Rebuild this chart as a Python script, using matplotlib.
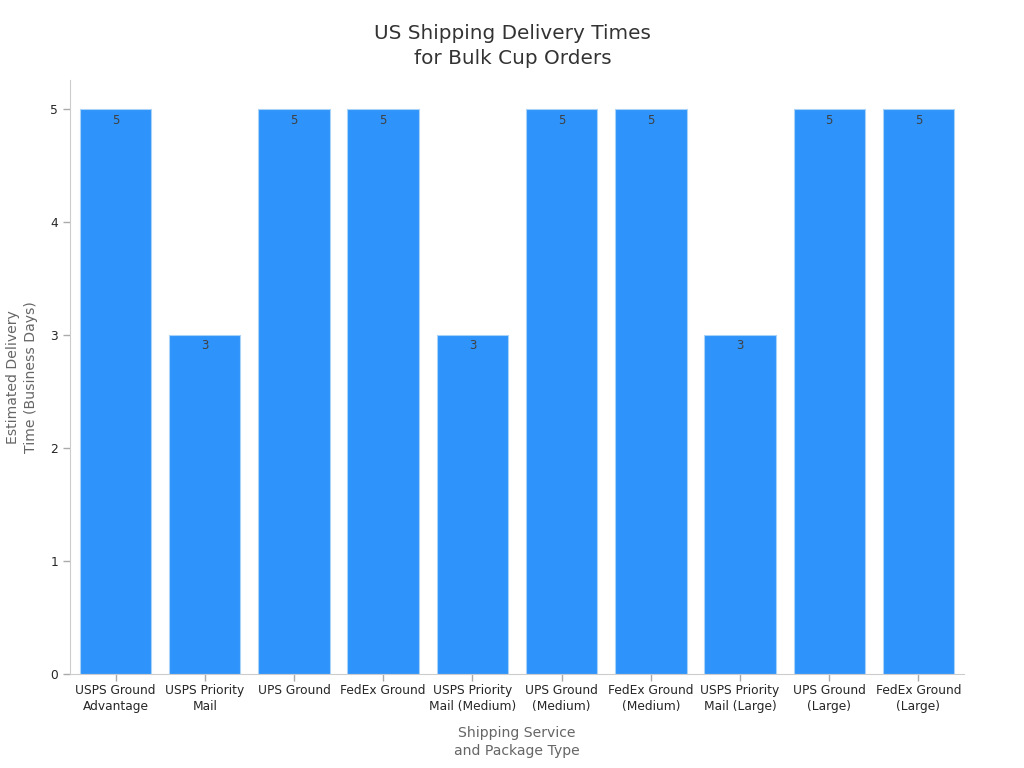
import matplotlib
matplotlib.use('Agg')
import matplotlib.pyplot as plt

services = ['USPS Ground\nAdvantage', 'USPS Priority\nMail', 'UPS Ground', 'FedEx Ground',
            'USPS Priority\nMail (Medium)', 'UPS Ground\n(Medium)', 'FedEx Ground\n(Medium)',
            'USPS Priority\nMail (Large)', 'UPS Ground\n(Large)', 'FedEx Ground\n(Large)']
days = [5, 3, 5, 5, 3, 5, 5, 3, 5, 5]
y_ticks = [0, 1, 2, 3, 4, 5]

fig = plt.figure(figsize=(10.24, 7.68), dpi=100)
ax = fig.add_axes([70 / 1024, 1 - 674 / 768, (964 - 70) / 1024, (674 - 80) / 768])

x = list(range(len(services)))
bars = ax.bar(x, days, width=0.8, color='#2e93fa', edgecolor='#a8d2f8', linewidth=0.8)

# value labels just inside the top of each bar
for xi, d in zip(x, days):
    ax.annotate(str(d), (xi, d), xytext=(0, -3), textcoords='offset points',
                ha='center', va='top', fontsize=8.5, color='#404040')

ax.set_xlim(-0.51, 9.51)
ax.set_ylim(0, 5.26)
ax.set_xticks(x)
ax.set_xticklabels(services, fontsize=8.8, color='#262626', linespacing=1.25)
ax.set_yticks(y_ticks)
ax.tick_params(axis='y', labelsize=8.8, labelcolor='#262626', color='#aaaaaa', length=5, width=1)
ax.tick_params(axis='x', color='#aaaaaa', length=5, width=1, pad=2.5)

ax.spines['top'].set_visible(False)
ax.spines['right'].set_visible(False)
ax.spines['left'].set_color('#cccccc')
ax.spines['bottom'].set_color('#cccccc')

fig.text(512.5 / 1024, 1 - 46 / 768, 'US Shipping Delivery Times\nfor Bulk Cup Orders', ha='center', va='center',
         fontsize=14.4, color='#333333', linespacing=1.45)
fig.text(517 / 1024, 1 - 742 / 768, 'Shipping Service\nand Package Type', ha='center', va='center',
         fontsize=10.1, color='#666666', linespacing=1.35)
fig.text(22 / 1024, 1 - 377 / 768, 'Estimated Delivery\nTime (Business Days)', ha='center', va='center',
         rotation=90, fontsize=10.1, color='#666666', linespacing=1.3)

fig.savefig('out.png', dpi=100)
